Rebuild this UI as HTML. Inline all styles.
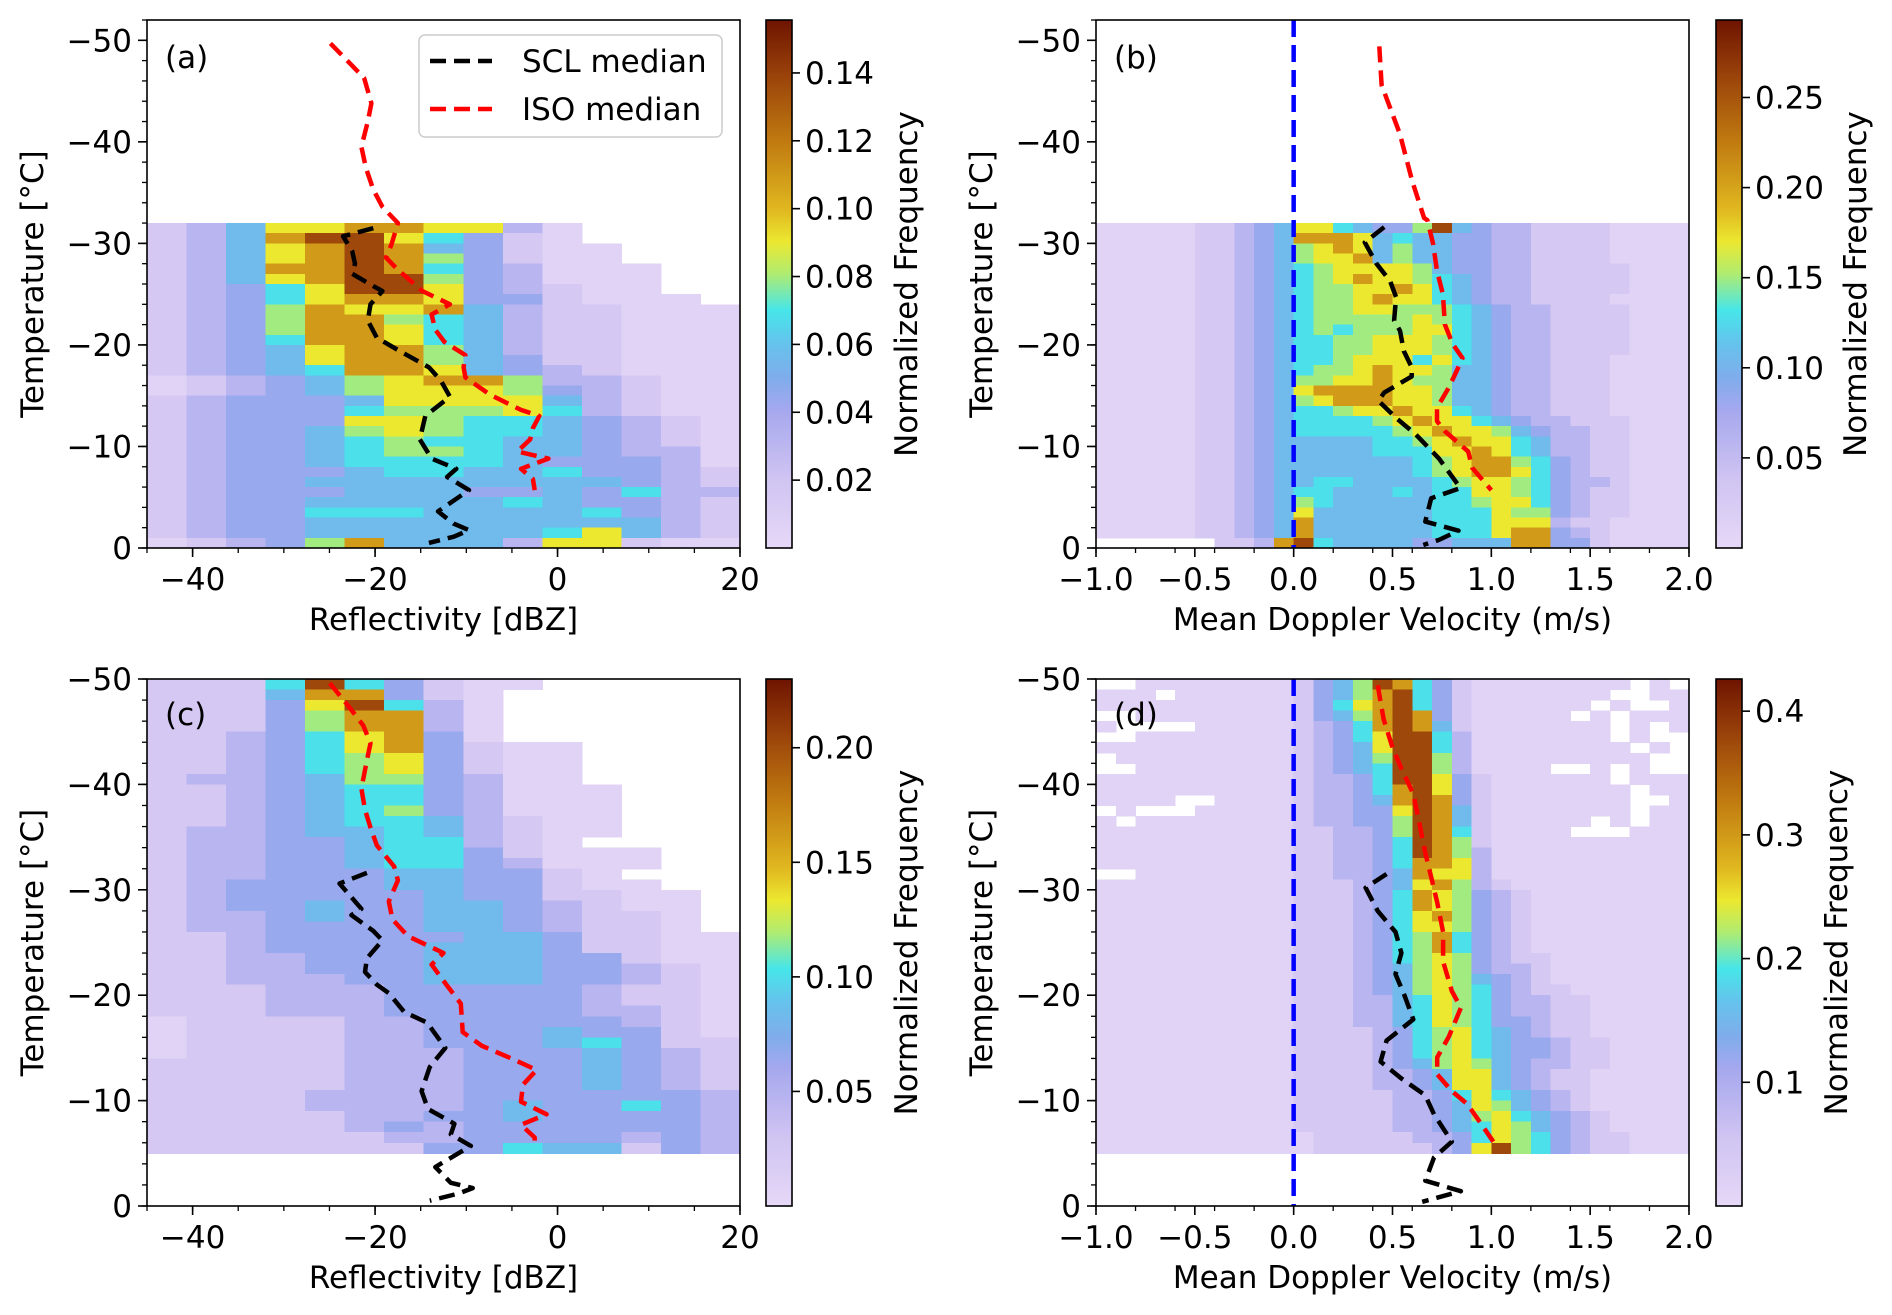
<!DOCTYPE html>
<html><head><meta charset="utf-8">
<style>
html,body{margin:0;padding:0;background:#fff;}
svg{display:block;font-family:"DejaVu Sans","Liberation Sans",sans-serif;}
</style></head>
<body>
<svg id="fig" width="1892" height="1315" viewBox="0 0 1892 1315" xmlns="http://www.w3.org/2000/svg">
<defs id="defs"></defs>
</svg>
<script>
// ---------- DATA ----------
const levelFrac = [0.03,0.10,0.20,0.28,0.36,0.44,0.51,0.58,0.70,0.88];

const gridA = [
"12477887720....","12489975310....","124789843100...","124789863100...",
"1248898532000..","1247899632000..","1235799732100..","12357887331000.",
"123687784211000","123688654211000","123688754211000","123588754211000",
"123478864211000","123478864311000","123458874321000","012346788622100",
"012346777632100","123334777742100","123335666752100","123337765543210",
"123346765543210","123345655443210","123345665443220","123345555433320",
"123334554453321","123344444444321","123334443343522","123344444543321",
"123355544445321","123344444444421","123344444457421","012368444277100"];

const gridB = [
"000001123477543369432211110000","000001123488874544332211110000",
"000001123467874644332211110000","000001123467784644332211110000",
"000001123456777764332211111000","000001123456787765432211111000",
"000001123456677875432211111000","000001123456678775432211110000",
"000001123456677666543221111000","000001123456666676543221111000",
"000001123456566677543221111000","000001123455667776543221111000",
"000001123455667776543221111000","000001123455677757543221110000",
"000001123456678776443221110000","000001123466778766443221110000",
"000001123478888776443221110000","000001123467888776443221110000",
"000001123455677877543221110000","000001123455556787754322111000",
"000001123455555678776432211000","000001123444445567877542211000",
"000001123444445557787542211000","000001123444444456788653211000",
"000001123444444456788753211000","000001123445544445677653221000",
"000001123455444545577653211000","000001123465444445567753211000",
"000001123474444445557663211000","000001123484444445557772110000",
"000001123484444445557883210000","......112895444433444883310000"];

const gridC = [
"1115953100.....","111488310......","111379520......","111368820......",
"111368820......","112357830......","11235783100....","11235673100....",
"11235673100....","12234663200....","112345532000...","112345532000...",
"112345632000...","112345542100...","122344542100...","12233455210....",
"1223345531000..","1223345532000..","122333443310...","1233334433100..",
"12333334331100.","12334334432100.","12234334432110.","12233334432110.",
"112333334431100","112333344431100","112233344433100","112233344433210",
"112223344433210","111222333332110","111222333332110","111222333332210",
"011112233333210","011112233343310","011112233345311","011112223334321",
"111112223334321","111112223334321","111112223334321","111122223333332",
"111122223433532","111112233433332","111112323333332","111111223333232",
"111111133544132"];

const gridD = [
"..00000000"+"1346985310"+"0000000.0.", "000.000000"+"1346895310"+"000000..00",
"0000000000"+"1357895310"+"00000.0..0", "..00000000"+"1346898310"+"0000.0.000",
"0....00000"+"1235898410"+"000000.0.0", "..00000000"+"1235799520"+"000000.0..",
"0000000000"+"1234799520"+"0000000.0.", ".000000000"+"1234699620"+"00000000..",
"..00000000"+"1234599620"+"000..0.0..", "0000000000"+"1223599731"+"000000.000",
"0000000000"+"1223589731"+"0000000.00", "0000..0000"+"1223489831"+"0000000..0",
".0...00000"+"1223379841"+"0000000.00", "0.00000000"+"1223369841"+"00000.0.00",
"0000000000"+"1122369851"+"0000...000", "0000000000"+"1122359861"+"0000000000",
"0000000000"+"1122359862"+"0000000000", "0000000000"+"1122358872"+"0000000000",
"..00000000"+"1122348772"+"0000000000", "0000000000"+"1112347862"+"1000000000",
"0000000000"+"1112358763"+"2100000000", "0000000000"+"1112358763"+"2100000000",
"0000000000"+"1112357863"+"2100000000", "0000000000"+"1112357763"+"2100000000",
"0000000000"+"1112356853"+"2100000000", "0000000000"+"1112356853"+"2100000000",
"0000000000"+"1112356763"+"2110000000", "0000000000"+"1112346763"+"2210000000",
"0000000000"+"1112346764"+"3210000000", "0000000000"+"1112346765"+"3211000000",
"0000000000"+"1112245765"+"3221100000", "0000000000"+"1112245765"+"3221100000",
"0000000000"+"1112245765"+"3321100000", "0000000000"+"1111235675"+"4321100000",
"0000000000"+"1111235675"+"4332110000", "0000000000"+"1111235675"+"4332110000",
"0000000000"+"1111234676"+"4322110000", "0000000000"+"1111223477"+"4321100000",
"0000000000"+"1111223477"+"4321100000", "0000000000"+"1111122357"+"5432100000",
"0000000000"+"1111122347"+"6432100000", "0000000000"+"1111122346"+"7543210000",
"0000000000"+"1111122345"+"7643210000", "0000000000"+"0111112235"+"7653211000",
"0000000000"+"0111111237"+"9653211000"];

const aIsoX = [-24.9,-21.2,-20.4,-20.8,-21.5,-21.0,-20.2,-19.2,-17.5,-18.2,-18.8,-17.5,-14.8,-11.8,-13.8,-13.4,-12.4,-10.1,-10.3,-10.1,-7.4,-4.0,-2.0,-2.7,-3.0,-4.4,-1.0,-4.0,-2.7,-2.5];
const aIsoT = [-49.7,-46.3,-43.8,-42,-39.5,-37.4,-35.3,-33.6,-32,-29.9,-28.6,-27.4,-25.3,-24,-23,-21.5,-20.3,-19,-17.8,-16.8,-15.1,-13.6,-13,-11.8,-10.7,-9.5,-8.8,-7.8,-6.8,-5.7];
const aSclX = [-20.2,-23.5,-22.5,-22.2,-22.5,-20.8,-19.2,-20.5,-20.8,-19.8,-17.5,-14.1,-12.8,-11.8,-14.5,-15.1,-13.8,-11.1,-12.1,-9.7,-13.1,-11.4,-9.7,-11.4,-14.1];
const aSclT = [-31.5,-30.7,-29.2,-28,-27,-26.1,-25.3,-24,-22.4,-20.7,-19.5,-17.8,-16.5,-14.9,-13,-10.7,-8.8,-7.8,-7,-5.7,-3.6,-2.4,-1.75,-1.1,-0.5];

const bIsoX = [0.433,0.445,0.537,0.60,0.66,0.676,0.705,0.725,0.755,0.765,0.804,0.854,0.824,0.785,0.725,0.725,0.765,0.883,0.903,1.0];
const bIsoT = [-49.4,-45.6,-40.8,-36.1,-32.5,-32.3,-30,-27.3,-25,-22,-20.1,-18.7,-17.4,-15.8,-13.8,-12.5,-11.5,-9.5,-7.9,-5.7];
const bSclX = [0.458,0.36,0.419,0.488,0.518,0.508,0.538,0.557,0.597,0.597,0.458,0.429,0.518,0.617,0.735,0.844,0.696,0.666,0.834,0.735,0.656];
const bSclT = [-31.6,-30.1,-28,-26.3,-24.7,-22.4,-21.4,-19.4,-17.8,-16.9,-15.3,-14.5,-12.8,-11.2,-8.8,-5.9,-4.9,-2.6,-1.7,-0.8,-0.3];

const cIsoX = [-24.96,-22.8,-21.3,-20.5,-20.9,-21.5,-21.1,-20.5,-19.8,-17.9,-17.5,-18.5,-18.1,-16.4,-12.5,-13.8,-12.1,-10.6,-10.4,-8.3,-4.8,-2.3,-3.8,-4.0,-1.2,-4.0,-2.5,-2.5];
const cIsoT = [-49.6,-47.3,-45.6,-43.9,-42.3,-39.6,-37.6,-35.9,-34.2,-32.2,-30.9,-28.9,-27.2,-25.6,-24.0,-22.9,-20.9,-19.2,-16.5,-15.2,-13.9,-12.9,-11.5,-9.9,-8.7,-7.7,-6.5,-5.8];
const cSclX = [-20.9,-23.9,-21.5,-22.6,-20.2,-19.2,-20.9,-21.1,-19.8,-18.5,-16.8,-14.3,-12.3,-14.0,-14.9,-14.2,-11.3,-11.7,-9.5,-13.4,-11.7,-9.3,-10.8,-14.0];
const cSclT = [-31.6,-30.6,-28.2,-27.6,-26.1,-25.2,-23.5,-22.2,-21.0,-20.2,-18.4,-17.4,-15.0,-13.2,-10.9,-9.2,-7.8,-6.8,-5.7,-3.7,-2.2,-1.7,-1.2,-0.5];

const dIsoX = [0.425,0.455,0.5,0.545,0.605,0.636,0.666,0.696,0.726,0.756,0.756,0.8,0.846,0.786,0.726,0.726,0.8,0.877,0.952,1.01];
const dIsoT = [-49.4,-46.2,-43.5,-41.5,-39.1,-36.3,-33.5,-31.2,-28.8,-26,-23.2,-20.4,-18.8,-16.1,-14.1,-12.5,-10.9,-9.7,-7.7,-6.1];
const dSclX = [0.47,0.364,0.425,0.515,0.545,0.515,0.56,0.605,0.47,0.44,0.545,0.666,0.71,0.8,0.71,0.666,0.846,0.65];
const dSclT = [-31.5,-30.2,-28,-26,-24,-22,-20,-17.7,-15.7,-13.7,-12.1,-10.5,-8.7,-6.1,-4.6,-2.4,-1.4,-0.4];

const cbTicksA = [0.02,0.04,0.06,0.08,0.10,0.12,0.14];
const cbTicksB = [0.05,0.10,0.15,0.20,0.25];
const cbTicksC = [0.05,0.10,0.15,0.20];
const cbTicksD = [0.1,0.2,0.3,0.4];

// ---------- RENDER ----------
const NS = "http://www.w3.org/2000/svg";
const svg = document.getElementById('fig');
const defs = document.getElementById('defs');
const FS = 31;
function mk(tag, attrs, parent){
  const e = document.createElementNS(NS, tag);
  for (const k in attrs) e.setAttribute(k, attrs[k]);
  (parent || svg).appendChild(e);
  return e;
}
const cmapStops = [
 [0.00,[230,216,247]],[0.13,[208,196,242]],[0.26,[166,168,238]],[0.32,[128,172,236]],
 [0.39,[100,196,236]],[0.45,[70,230,234]],[0.52,[176,236,112]],[0.58,[236,232,48]],
 [0.64,[224,184,32]],[0.77,[192,122,16]],[0.90,[152,64,10]],[1.00,[110,20,0]]];
function cmap(f){
  f = Math.max(0, Math.min(1, f));
  for (let i = 1; i < cmapStops.length; i++){
    if (f <= cmapStops[i][0]){
      const a = cmapStops[i-1], b = cmapStops[i];
      const t = (f - a[0]) / (b[0] - a[0]);
      const c = a[1].map((v, j) => Math.round(v + (b[1][j] - v) * t));
      return `rgb(${c[0]},${c[1]},${c[2]})`;
    }
  }
  return 'rgb(110,20,0)';
}
const grad = mk('linearGradient', {id:'cbgrad', x1:0, y1:1, x2:0, y2:0}, defs);
cmapStops.forEach(s => mk('stop', {offset:s[0], 'stop-color':`rgb(${s[1].join(',')})`}, grad));

function fmt(v, d){ const s = Math.abs(v).toFixed(d); return (v < 0 ? '\u2212' : '') + s; }

function panel(p){
  const g = mk('g', {});
  
  
  const X = v => p.x0 + (v - p.xmin) / (p.xmax - p.xmin) * p.w;
  const Y = t => p.y0 + (t - p.tTop) / (0 - p.tTop) * p.h;
  const hm = mk('g', {'shape-rendering':'crispEdges'}, g);
  
  
  p.grid.forEach((row, i) => {
    const t0 = p.gridTop + i, t1 = t0 + 1;
    for (let j = 0; j < row.length; j++){
      const ch = row[j];
      if (ch === '.') continue;
      const val = levelFrac[+ch] * p.vmax;
      const xa = X(p.xmin + j * p.binW), xb = X(p.xmin + (j + 1) * p.binW);
      const r = mk('rect', {x:xa.toFixed(2), y:Y(t0).toFixed(2), width:(xb - xa + 0.6).toFixed(2), height:(Y(t1) - Y(t0) + 0.6).toFixed(2), fill:cmap(val / p.vmax)}, hm);
      
      
    }
  });
  if (p.zeroLine){
    const zl = mk('line', {x1:X(0), x2:X(0), y1:p.y0, y2:p.y0 + p.h, stroke:'#0000ff', 'stroke-width':4.5, 'stroke-dasharray':'17,8'}, g);
    
    
  }
  const drawLine = (xs, ts, color, name) => {
    const pts = xs.map((x, i) => X(x).toFixed(1) + ',' + Y(ts[i]).toFixed(1)).join(' ');
    const pl = mk('polyline', {points:pts, fill:'none', stroke:color, 'stroke-width':4.5, 'stroke-dasharray':'16,8', 'stroke-linejoin':'round'}, g);
    
    
  };
  drawLine(p.sclX, p.sclT, '#000', 'scl-median-line');
  drawLine(p.isoX, p.isoT, '#ff0000', 'iso-median-line');
  const fr = mk('rect', {x:p.x0, y:p.y0, width:p.w, height:p.h, fill:'none', stroke:'#000', 'stroke-width':1.6}, g);
  
  
  p.xMinor.forEach(v => mk('line', {x1:X(v), x2:X(v), y1:p.y0 + p.h, y2:p.y0 + p.h + 5, stroke:'#000', 'stroke-width':1.3}, g));
  p.xMajor.forEach(v => {
    mk('line', {x1:X(v), x2:X(v), y1:p.y0 + p.h, y2:p.y0 + p.h + 9, stroke:'#000', 'stroke-width':1.6}, g);
    const t = mk('text', {x:X(v), y:p.y0 + p.h + 42, 'font-size':FS, 'text-anchor':'middle'}, g);
    t.textContent = fmt(v, p.xDec);
    
    
  });
  for (let v = 0; v >= p.tTop; v -= 2) mk('line', {x1:p.x0, x2:p.x0 - 5, y1:Y(v), y2:Y(v), stroke:'#000', 'stroke-width':1.3}, g);
  [0,-10,-20,-30,-40,-50].forEach(v => {
    mk('line', {x1:p.x0, x2:p.x0 - 9, y1:Y(v), y2:Y(v), stroke:'#000', 'stroke-width':1.6}, g);
    const t = mk('text', {x:p.x0 - 15, y:Y(v) + 11, 'font-size':FS, 'text-anchor':'end'}, g);
    t.textContent = fmt(v, 0);
    
    
  });
  const xl = mk('text', {x:p.x0 + p.w / 2, y:p.y0 + p.h + 82, 'font-size':FS, 'text-anchor':'middle'}, g);
  xl.textContent = p.xlabel;
  
  
  const yl = mk('text', {x:0, y:0, 'font-size':FS, 'text-anchor':'middle', transform:`translate(${p.x0 - 104},${p.y0 + p.h / 2}) rotate(-90)`}, g);
  yl.textContent = 'Temperature [°C]';
  
  
  const pl = mk('text', {x:p.x0 + 18, y:p.y0 + (p.tTop === -52 ? 48 : 46), 'font-size':FS}, g);
  pl.textContent = '(' + p.id + ')';
  
  
  const cbx = p.cbx, cbw = 26;
  const cb = mk('rect', {x:cbx, y:p.y0, width:cbw, height:p.h, fill:'url(#cbgrad)', stroke:'#000', 'stroke-width':1.6}, g);
  
  
  p.cbTicks.forEach(v => {
    const yy = p.y0 + p.h - v / p.vmax * p.h;
    mk('line', {x1:cbx + cbw, x2:cbx + cbw + 8, y1:yy, y2:yy, stroke:'#000', 'stroke-width':1.6}, g);
    const t = mk('text', {x:cbx + cbw + 13, y:yy + 11, 'font-size':FS}, g);
    t.textContent = v.toFixed(p.cbDec);
    
    
  });
  const cl = mk('text', {x:0, y:0, 'font-size':FS, 'text-anchor':'middle', transform:`translate(${p.cbLabelX},${p.y0 + p.h / 2}) rotate(-90)`}, g);
  cl.textContent = 'Normalized Frequency';
  
  
}

const minorDbz = []; for (let v = -45; v <= 20; v += 5) minorDbz.push(v);
const minorVel = []; for (let v = -1; v <= 2.001; v += 0.2) minorVel.push(+v.toFixed(2));

panel({id:'a', x0:147, y0:20, w:593, h:528, xmin:-45, xmax:20, tTop:-52, grid:gridA, gridTop:-32, binW:65/15, vmax:0.1556,
  isoX:aIsoX, isoT:aIsoT, sclX:aSclX, sclT:aSclT, xMajor:[-40,-20,0,20], xMinor:minorDbz, xDec:0,
  xlabel:'Reflectivity [dBZ]', cbTicks:cbTicksA, cbDec:2, cbx:766, cbLabelX:917});
panel({id:'b', x0:1096, y0:20, w:593, h:528, xmin:-1, xmax:2, tTop:-52, grid:gridB, gridTop:-32, binW:0.1, vmax:0.293, zeroLine:true,
  isoX:bIsoX, isoT:bIsoT, sclX:bSclX, sclT:bSclT, xMajor:[-1,-0.5,0,0.5,1,1.5,2], xMinor:minorVel, xDec:1,
  xlabel:'Mean Doppler Velocity (m/s)', cbTicks:cbTicksB, cbDec:2, cbx:1716, cbLabelX:1866});
panel({id:'c', x0:147, y0:679, w:593, h:527, xmin:-45, xmax:20, tTop:-50, grid:gridC, gridTop:-50, binW:65/15, vmax:0.230,
  isoX:cIsoX, isoT:cIsoT, sclX:cSclX, sclT:cSclT, xMajor:[-40,-20,0,20], xMinor:minorDbz, xDec:0,
  xlabel:'Reflectivity [dBZ]', cbTicks:cbTicksC, cbDec:2, cbx:766, cbLabelX:917});
panel({id:'d', x0:1096, y0:679, w:593, h:527, xmin:-1, xmax:2, tTop:-50, grid:gridD, gridTop:-50, binW:0.1, vmax:0.426, zeroLine:true,
  isoX:dIsoX, isoT:dIsoT, sclX:dSclX, sclT:dSclT, xMajor:[-1,-0.5,0,0.5,1,1.5,2], xMinor:minorVel, xDec:1,
  xlabel:'Mean Doppler Velocity (m/s)', cbTicks:cbTicksD, cbDec:1, cbx:1716, cbLabelX:1847});

const lg = mk('g', {});


mk('rect', {x:419, y:35, width:303, height:102, rx:6, fill:'#fff', 'fill-opacity':0.85, stroke:'#cccccc', 'stroke-width':1.5}, lg);
[['SCL median','#000',61],['ISO median','#ff0000',109]].forEach(e => {
  const it = mk('g', {}, lg);
  
  
  mk('line', {x1:430, x2:492, y1:e[2], y2:e[2], stroke:e[1], 'stroke-width':4.5, 'stroke-dasharray':'16,8'}, it);
  const t = mk('text', {x:522, y:e[2] + 11, 'font-size':FS}, it);
  t.textContent = e[0];
});
</script>
</body></html>
